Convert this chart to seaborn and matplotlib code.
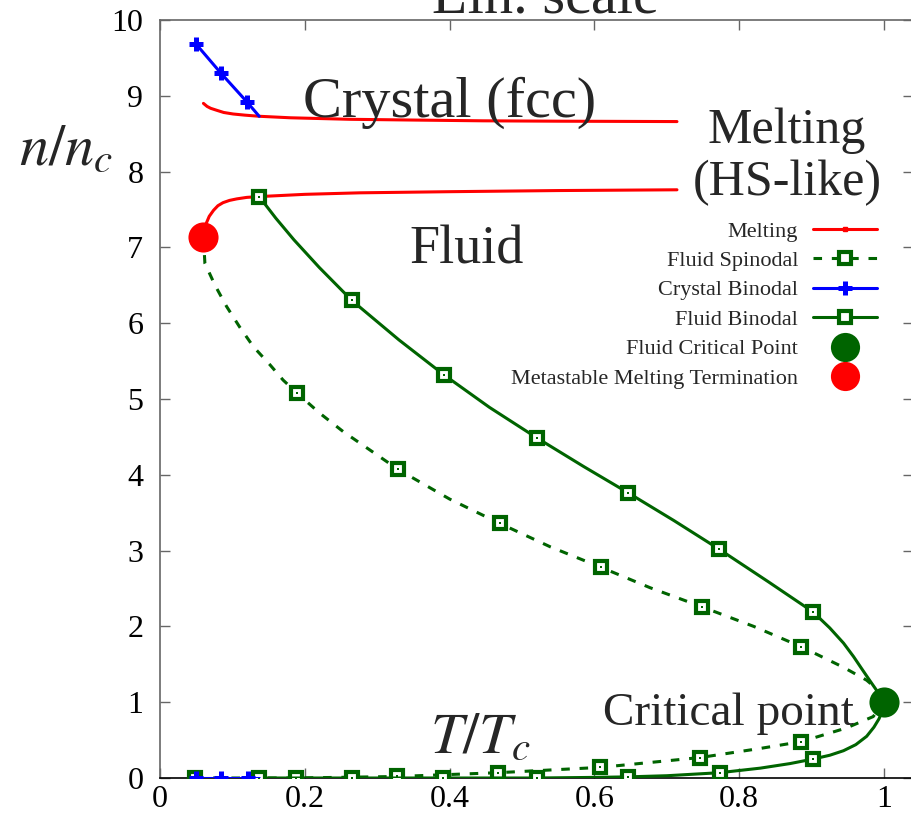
import matplotlib
matplotlib.use("Agg")
import matplotlib.pyplot as plt
from matplotlib.lines import Line2D
import seaborn as sns

# ---- phase-diagram curves: reduced temperature T/Tc vs reduced density n/nc ----
# Melting line, crystal branch
melt_hi_T = [0.060, 0.065, 0.070, 0.078, 0.088, 0.101, 0.117, 0.137, 0.180, 0.262, 0.350, 0.446, 0.550, 0.714]
melt_hi_n = [8.90, 8.86, 8.835, 8.81, 8.78, 8.76, 8.745, 8.73, 8.71, 8.69, 8.68, 8.67, 8.665, 8.66]
# Melting line, fluid branch (starts at the metastable termination point)
melt_lo_T = [0.060, 0.062, 0.064, 0.068, 0.074, 0.080, 0.087, 0.096, 0.106, 0.120, 0.136, 0.200, 0.276, 0.400, 0.550, 0.714]
melt_lo_n = [7.14, 7.25, 7.32, 7.41, 7.49, 7.55, 7.59, 7.62, 7.64, 7.66, 7.67, 7.70, 7.72, 7.735, 7.75, 7.76]

# Crystal binodal (dense and dilute sides)
cryst_hi_T = [0.050, 0.084, 0.120, 0.137]
cryst_hi_n = [9.68, 9.30, 8.92, 8.73]
cryst_lo_T = [0.050, 0.084, 0.121, 0.137]
cryst_lo_n = [0.0, 0.0, 0.0, 0.0]
cryst_marks = [0, 1, 2]

# Fluid binodal (liquid and gas sides)
bin_hi_T = [0.137, 0.160, 0.185, 0.220, 0.265, 0.330, 0.392, 0.455, 0.520, 0.585, 0.647,
            0.710, 0.772, 0.840, 0.902, 0.925, 0.944, 0.958, 0.970, 0.980, 0.988, 0.995, 1.000]
bin_hi_n = [7.67, 7.385, 7.10, 6.735, 6.30, 5.78, 5.32, 4.89, 4.49, 4.11, 3.76,
            3.395, 3.02, 2.59, 2.19, 1.98, 1.78, 1.60, 1.43, 1.29, 1.18, 1.08, 1.00]
bin_hi_marks = [0, 4, 6, 8, 10, 12, 14]
bin_lo_T = [0.137, 0.265, 0.391, 0.520, 0.600, 0.646, 0.700, 0.773, 0.829, 0.870, 0.902,
            0.925, 0.944, 0.961, 0.976, 0.986, 0.993, 0.998, 1.000]
bin_lo_n = [0.0, 0.0, 0.0, 0.0, 0.008, 0.015, 0.03, 0.07, 0.13, 0.19, 0.25,
            0.30, 0.36, 0.44, 0.55, 0.67, 0.78, 0.89, 1.00]
bin_lo_marks = [0, 1, 2, 3, 5, 7, 10]

# Fluid spinodal (upper and lower branches)
spin_hi_T = [0.060, 0.062, 0.076, 0.092, 0.110, 0.129, 0.152, 0.170, 0.189, 0.221, 0.253, 0.329,
             0.400, 0.469, 0.539, 0.609, 0.677, 0.748, 0.820, 0.886, 0.944, 0.976, 0.993, 1.000]
spin_hi_n = [7.14, 6.79, 6.50, 6.22, 5.95, 5.69, 5.45, 5.25, 5.08, 4.81, 4.57, 4.07,
             3.68, 3.36, 3.05, 2.78, 2.51, 2.26, 2.00, 1.73, 1.46, 1.29, 1.15, 1.00]
spin_hi_marks = [8, 11, 13, 15, 17, 19]
spin_lo_T = [0.048, 0.188, 0.328, 0.467, 0.608, 0.746, 0.829, 0.886, 0.948, 0.985, 1.000]
spin_lo_n = [0.0, 0.0, 0.02, 0.07, 0.14, 0.27, 0.39, 0.48, 0.66, 0.81, 1.00]
spin_lo_marks = [0, 1, 2, 3, 4, 5, 7]

# Special points
crit_T, crit_n = [1.0], [1.0]
term_T, term_n = [0.060], [7.14]

RED = "#ff0000"
BLUE = "#0000ff"
GREEN = "#006400"
LW = 2.2
DASH = (0, (2.8, 3.2))

sns.set_theme(style="ticks")
plt.rcParams["font.family"] = ["Liberation Serif", "DejaVu Serif"]
plt.rcParams["mathtext.fontset"] = "stix"

fig = plt.figure(figsize=(9.11, 8.15), dpi=100)
ax = fig.add_axes([160 / 911, 37 / 815, 753 / 911, 758 / 815])

sq = dict(marker="s", markersize=8.3, markerfacecolor="white",
          markeredgecolor=GREEN, markeredgewidth=3.0)
plus = dict(marker="+", markersize=9.5, markeredgewidth=3.6, markeredgecolor=BLUE)


def curve(T, n, color, marks=None, mstyle=None, ls="-", z=2):
    kw = dict(x=T, y=n, sort=False, estimator=None, color=color, lw=LW,
              linestyle=ls, ax=ax, zorder=z, legend=False)
    if marks is not None:
        kw.update(mstyle)
        kw["markevery"] = marks
    sns.lineplot(**kw)
    if marks is not None and mstyle.get("marker") == "s":
        # small centre dot inside each open square
        sns.scatterplot(x=[T[i] for i in marks], y=[n[i] for i in marks], marker="s",
                        s=4, color=color, linewidth=0, ax=ax, zorder=z + 0.5, legend=False)


# melting lines
curve(melt_hi_T, melt_hi_n, RED, z=2)
curve(melt_lo_T, melt_lo_n, RED, z=2)
# fluid spinodal
curve(spin_hi_T, spin_hi_n, GREEN, spin_hi_marks, sq, ls=DASH, z=3)
curve(spin_lo_T, spin_lo_n, GREEN, spin_lo_marks, sq, ls=DASH, z=3)
# fluid binodal
curve(bin_hi_T, bin_hi_n, GREEN, bin_hi_marks, sq, z=3)
curve(bin_lo_T, bin_lo_n, GREEN, bin_lo_marks, sq, z=3)
# crystal binodal
curve(cryst_hi_T, cryst_hi_n, BLUE, cryst_marks, plus, z=4)
curve(cryst_lo_T, cryst_lo_n, BLUE, cryst_marks, plus, z=4)

# critical point and metastable melting termination
sns.scatterplot(x=crit_T, y=crit_n, s=470, color=GREEN, linewidth=0,
                ax=ax, zorder=6, legend=False)
sns.scatterplot(x=term_T, y=term_n, s=470, color=RED, linewidth=0,
                ax=ax, zorder=6, legend=False)

ax.set_xlim(0, 1.04)
ax.set_ylim(0, 10)
ax.set_xticks([0, 0.2, 0.4, 0.6, 0.8, 1.0])
ax.set_xticklabels(["0", "0.2", "0.4", "0.6", "0.8", "1"])
ax.set_yticks(range(0, 11))
ax.set_xlabel("")
ax.set_ylabel("")
ax.tick_params(axis="both", which="both", direction="in", length=7, width=1,
               color="#666666", labelsize=23, labelcolor="black",
               top=True, right=True)
ax.tick_params(axis="x", pad=5)
ax.tick_params(axis="y", pad=12)
for side in ["left", "top", "right"]:
    ax.spines[side].set_color("#666666")
    ax.spines[side].set_linewidth(1.2)
ax.spines["bottom"].set_color("black")
ax.spines["bottom"].set_linewidth(1.2)
for s in ax.spines.values():
    s.set_visible(True)

# region and axis labels
ax.text(0.532, 10.105, "Lin. scale", ha="center", va="baseline", fontsize=42, clip_on=False)
ax.text(0.198, 8.72, "Crystal (fcc)", ha="left", va="baseline", fontsize=42)
ax.text(0.423, 6.79, "Fluid", ha="center", va="baseline", fontsize=39)
ax.text(0.866, 8.38, "Melting", ha="center", va="baseline", fontsize=36)
ax.text(0.866, 7.69, "(HS-like)", ha="center", va="baseline", fontsize=36)
ax.text(0.785, 0.70, "Critical point", ha="center", va="baseline", fontsize=34)
ax.text(0.373, 0.33, r"$T/T_{c}$", ha="left", va="baseline", fontsize=42)
ax.text(-0.195, 8.09, r"$n/n_{c}$", ha="left", va="baseline", fontsize=42, clip_on=False)

# legend
handles = [
    Line2D([], [], color=RED, lw=LW, marker="s", markersize=2.5),
    Line2D([], [], color=GREEN, lw=LW, linestyle=DASH, **sq),
    Line2D([], [], color=BLUE, lw=LW, **plus),
    Line2D([], [], color=GREEN, lw=LW, **sq),
    Line2D([], [], color=GREEN, lw=0, marker="o", markersize=21, markeredgewidth=0),
    Line2D([], [], color=RED, lw=0, marker="o", markersize=21, markeredgewidth=0),
]
labels = ["Melting", "Fluid Spinodal", "Crystal Binodal", "Fluid Binodal",
          "Fluid Critical Point", "Metastable Melting Termination"]
fig.legend(handles, labels, loc="upper right", bbox_to_anchor=(877 / 911, (815 - 221) / 815),
           frameon=False, markerfirst=False, fontsize=16, numpoints=1,
           handlelength=2.9, handletextpad=0.65, labelspacing=0.40,
           borderpad=0, borderaxespad=0)

fig.savefig("out.png", dpi=100)
